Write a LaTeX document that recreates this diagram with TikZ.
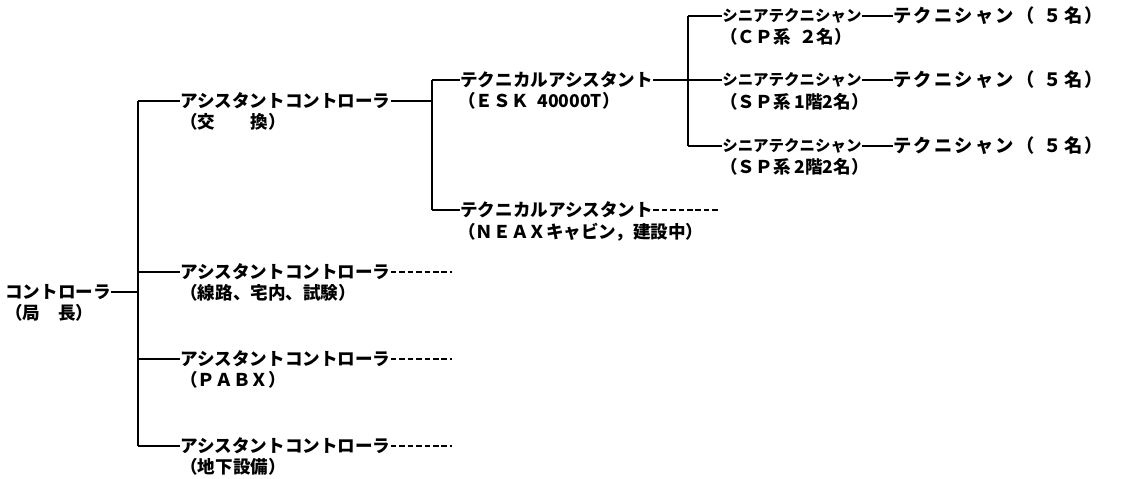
\documentclass[tikz,border=0pt]{standalone}
\usepackage{fontspec}
\setmainfont{Noto Sans CJK JP}
\begin{document}
\begin{tikzpicture}[
        x=0.025cm, y=-0.025cm,
        lbl/.style={anchor=west, inner sep=0pt, font=\fontsize{12.5}{15}\selectfont\bfseries},
        sub/.style={anchor=west, inner sep=0pt, font=\fontsize{11}{13}\selectfont\bfseries},
        tech/.style={anchor=west, inner sep=0pt,
                     font=\fontsize{13}{15}\selectfont\bfseries\addfontfeature{LetterSpace=12}},
        link/.style={line width=1.1pt},
        open/.style={line width=1pt, dash pattern=on 4pt off 2pt}
      ]
        \useasboundingbox (0,0) rectangle (1126,479);

        % root
        \node[lbl] (ctl) at (5,292) {コントローラ};
        \node[lbl] (ctlp) at (5,313) {（局\quad 長）};
        \coordinate (trunk) at (138,292);
        \coordinate (tA) at (138,101);
        \coordinate (tD) at (138,446);

        % level 1
        \node[lbl] (acX) at (180,101) {アシスタントコントローラ};
        \node[lbl] at (180,122) {（交\qquad 換）};
        \node[lbl] (acL) at (180,272) {アシスタントコントローラ};
        \node[lbl] at (180,293) {（線路、宅内、試験）};
        \node[lbl] (acP) at (180,359) {アシスタントコントローラ};
        \node[lbl] at (180,380) {（ＰＡＢＸ）};
        \node[lbl] (acU) at (180,446) {アシスタントコントローラ};
        \node[lbl] at (180,467) {（地下設備）};

        \coordinate (endL) at (452,272);
        \coordinate (endP) at (452,359);
        \coordinate (endU) at (452,446);

        % level 2
        \coordinate (xA) at (432,101);
        \coordinate (xT) at (432,80);
        \coordinate (xB) at (432,210);
        \node[lbl] (taE) at (460,80) {テクニカルアシスタント};
        \node[lbl] at (458,101) {（ＥＳＫ\enspace 40000T）};
        \node[lbl] (taN) at (460,210) {テクニカルアシスタント};
        \node[lbl] at (458,232) {（ＮＥＡＸキャビン，建設中）};
        \coordinate (endN) at (720,210);

        % level 3
        \coordinate (sT) at (688,16);
        \coordinate (sB) at (688,146);
        \node[sub] (stC) at (722,16) {シニアテクニシャン};
        \node[lbl] at (720,37) {（ＣＰ系\enspace ２名）};
        \node[sub] (stS) at (722,80) {シニアテクニシャン};
        \node[lbl] at (720,102) {（ＳＰ系 1階2名）};
        \node[sub] (stT) at (722,146) {シニアテクニシャン};
        \node[lbl] at (720,167) {（ＳＰ系 2階2名）};

        \node[tech] (tcC) at (893,16) {テクニシャン（\enspace５名）};
        \node[tech] (tcS) at (893,80) {テクニシャン（\enspace５名）};
        \node[tech] (tcT) at (893,146) {テクニシャン（\enspace５名）};

        \draw[link] (ctl.east) -- (trunk);
        \draw[link] (tA) -- (tD);
        \draw[link] (tA) -- (acX.west);
        \draw[link] (trunk |- acL.west) -- (acL.west);
        \draw[link] (trunk |- acP.west) -- (acP.west);
        \draw[link] (tD) -- (acU.west);
        \draw[open] (acL.east) -- (endL);
        \draw[open] (acP.east) -- (endP);
        \draw[open] (acU.east) -- (endU);

        \draw[link] (acX.east) -- (xA);
        \draw[link] (xT) -- (xB);
        \draw[link] (xT) -- (taE.west);
        \draw[link] (xB) -- (taN.west);
        \draw[open] (taN.east) -- (endN);

        \draw[link] (sT) -- (sB);
        \draw[link] (taE.east) -- (stS.west);
        \draw[link] (sT) -- (stC.west);
        \draw[link] (sB) -- (stT.west);
        \draw[link] (stC.east) -- (tcC.west);
        \draw[link] (stS.east) -- (tcS.west);
        \draw[link] (stT.east) -- (tcT.west);
      \end{tikzpicture}
\end{document}
